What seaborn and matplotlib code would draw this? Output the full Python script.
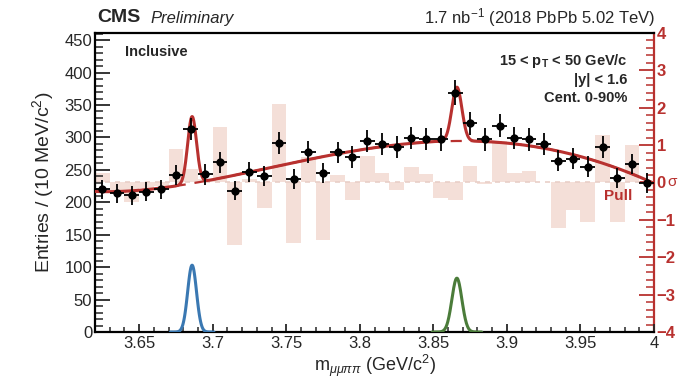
import numpy as np
import matplotlib
matplotlib.use("Agg")
import matplotlib.pyplot as plt
import seaborn as sns
import pandas as pd
from matplotlib.ticker import MultipleLocator

# ---------------- data ----------------
mass = [3.625, 3.635, 3.645, 3.655, 3.665, 3.675, 3.685, 3.695, 3.705, 3.715,
        3.725, 3.735, 3.745, 3.755, 3.765, 3.775, 3.785, 3.795, 3.805, 3.815,
        3.825, 3.835, 3.845, 3.855, 3.865, 3.875, 3.885, 3.895, 3.905, 3.915,
        3.925, 3.935, 3.945, 3.955, 3.965, 3.975, 3.985, 3.995]
entries = [220, 214, 211, 216, 220, 242, 313, 243, 262, 218,
           247, 240, 292, 236, 278, 245, 277, 270, 294, 290,
           285, 299, 298, 297, 369, 322, 297, 318, 299, 297,
           290, 264, 267, 255, 285, 237, 259, 230]
pulls = [0.26, -0.20, -0.51, -0.15, -0.10, 0.89, 0.35, 0.10, 1.49, -1.67,
         0.10, -0.69, 2.09, -1.63, 0.69, -1.54, 0.20, -0.47, 0.71, 0.26,
         -0.20, 0.42, 0.22, -0.42, -0.47, 0.44, -0.05, 1.11, 0.25, 0.31,
         0.02, -1.22, -0.74, -1.05, 1.27, -1.05, 1.00, 0.02]

# background shape read at a few masses (fit model)
bg_mass = [3.62, 3.66, 3.70, 3.75, 3.80, 3.85, 3.90, 3.95, 4.00]
bg_level = [216, 222, 235, 258, 279, 295, 293, 268, 230]
# signal peaks: mean, width, height
psi_mean, psi_sigma, psi_height = 3.686, 0.0030, 103
x_mean, x_sigma, x_height = 3.866, 0.0034, 83

x_ticks = [3.65, 3.70, 3.75, 3.80, 3.85, 3.90, 3.95, 4.00]
x_ticklabels = ["3.65", "3.7", "3.75", "3.8", "3.85", "3.9", "3.95", "4"]

# ---------------- style ----------------
sns.set_style("ticks")
plt.rcParams["font.family"] = ["Liberation Sans", "DejaVu Sans"]
plt.rcParams["mathtext.fontset"] = "custom"
plt.rcParams["mathtext.rm"] = "Liberation Sans"
plt.rcParams["mathtext.it"] = "Liberation Sans:italic"
plt.rcParams["mathtext.bf"] = "Liberation Sans:bold"

RED = "#b8312f"
PINK = "#f4dfd8"
BLUE = "#3a78b2"
GREEN = "#4b7c3a"

fig = plt.figure(figsize=(6.78, 3.78), dpi=100)
ax = fig.add_axes([95/678, 1-332/378, 559/678, 299/378])
ax2 = ax.twinx()

# model curves
grid = np.linspace(3.62, 4.0, 1500)
coef = np.polyfit(np.array(bg_mass) - 3.8, bg_level, 4)
bg = np.polyval(coef, grid - 3.8)
sig1 = psi_height * np.exp(-0.5 * ((grid - psi_mean) / psi_sigma) ** 2)
sig2 = x_height * np.exp(-0.5 * ((grid - x_mean) / x_sigma) ** 2)
total = bg + sig1 + sig2

# ---- pull histogram on right axis ----
edges_left = np.array(mass) - 0.005
ax2.bar(edges_left, pulls, width=0.01, align="edge", color=PINK, edgecolor="none", zorder=1)
ax2.axhline(0, color="#e9cfc8", lw=1.2, ls=(0, (3, 3)), zorder=2)
ax2.set_ylim(-4, 4)
ax2.yaxis.set_major_locator(MultipleLocator(1))
ax2.yaxis.set_minor_locator(MultipleLocator(0.2))
ax2.tick_params(axis="y", which="major", direction="in", length=11, width=1.3,
                colors=RED, labelsize=12, pad=2)
ax2.tick_params(axis="y", which="minor", direction="in", length=6, width=1.1, colors=RED)
ax2.set_yticks([-4, -3, -2, -1, 0, 1, 2, 3, 4])
ax2.set_yticklabels(["\u22124", "\u22123", "\u22122", "\u22121", "0", "1", "2", "3", "4"],
                    fontweight="bold", color=RED)
for s in ["left", "top", "bottom"]:
    ax2.spines[s].set_visible(False)
ax2.spines["right"].set_color(RED)
ax2.spines["right"].set_linewidth(1.6)

# main axis above pull axis
ax.set_zorder(ax2.get_zorder() + 1)
ax.patch.set_visible(False)

df_fit = pd.DataFrame({"m": grid, "total": total, "bg": bg, "s1": sig1, "s2": sig2})
sns.lineplot(data=df_fit, x="m", y="bg", ax=ax, color=RED, lw=1.6, ls=(0, (5, 4)), zorder=3)
sns.lineplot(data=df_fit, x="m", y="total", ax=ax, color=RED, lw=2.2, zorder=4)
m1 = np.abs(grid - psi_mean) < 5 * psi_sigma
m2 = np.abs(grid - x_mean) < 5 * x_sigma
sns.lineplot(data=df_fit[m1], x="m", y="s1", ax=ax, color=BLUE, lw=2.2, zorder=4)
sns.lineplot(data=df_fit[m2], x="m", y="s2", ax=ax, color=GREEN, lw=2.2, zorder=4)

df = pd.DataFrame({"m": mass, "n": entries})
ax.errorbar(df["m"], df["n"], yerr=np.sqrt(df["n"]), xerr=0.005, fmt="none",
            ecolor="black", elinewidth=1.3, capsize=0, zorder=5)
sns.scatterplot(data=df, x="m", y="n", ax=ax, color="black", s=36, edgecolor="black",
                linewidth=0, zorder=6)

ax.set_xlim(3.62, 4.0)
ax.set_ylim(0, 461)
ax2.set_xlim(3.62, 4.0)
ax.set_xticks(x_ticks)
ax.set_xticklabels(x_ticklabels)
ax.xaxis.set_minor_locator(MultipleLocator(0.01))
ax.yaxis.set_major_locator(MultipleLocator(50))
ax.yaxis.set_minor_locator(MultipleLocator(10))
ax.tick_params(axis="y", which="major", direction="in", length=11, width=1.3,
               labelsize=12, pad=2, right=False)
ax.tick_params(axis="y", which="minor", direction="in", length=6, width=1.1, right=False)
ax.tick_params(axis="x", which="major", direction="in", length=6, width=1.3,
               labelsize=12, pad=3, top=False)
ax.tick_params(axis="x", which="minor", direction="in", length=3.5, width=1.1, top=False)
for s in ["left", "top", "bottom"]:
    ax.spines[s].set_linewidth(1.6)
    ax.spines[s].set_color("black")
ax.spines["right"].set_visible(False)

ax.set_xlabel(r"m$_{\mu\mu\pi\pi}$ (GeV/c$^{2}$)", fontsize=13, labelpad=1)
ax.set_ylabel(r"Entries / (10 MeV/c$^{2}$)", fontsize=14, labelpad=6)
ax2.set_ylabel("")

# text annotations
fig.text(97/678, 1-18/378, "CMS", fontsize=14, fontweight="bold", va="center", ha="left")
fig.text(150/678, 1-18/378, "Preliminary", fontsize=12, style="italic", va="center", ha="left")
fig.text(655/678, 1-18/378, r"1.7 nb$^{-1}$ (2018 PbPb 5.02 TeV)", fontsize=12,
         va="center", ha="right")
ax.text(0.054, 0.935, "Inclusive", transform=ax.transAxes, fontsize=10.5,
        fontweight="bold", va="center", ha="left")
ax.text(0.953, 0.905, r"15 < $\mathbf{p_T}$ < 50 GeV/c", transform=ax.transAxes,
        fontsize=10.5, fontweight="bold", va="center", ha="right")
ax.text(0.953, 0.843, "|y| < 1.6", transform=ax.transAxes, fontsize=10.5,
        fontweight="bold", va="center", ha="right")
ax.text(0.953, 0.783, "Cent. 0-90%", transform=ax.transAxes, fontsize=10.5,
        fontweight="bold", va="center", ha="right")
ax.text(0.962, 0.455, "Pull", transform=ax.transAxes, fontsize=11,
        fontweight="bold", color=RED, va="center", ha="right")
fig.text(667/678, 1-182/378, "\u03c3", fontsize=11, color=RED, va="center", ha="left")

fig.savefig("out.png", dpi=100)
